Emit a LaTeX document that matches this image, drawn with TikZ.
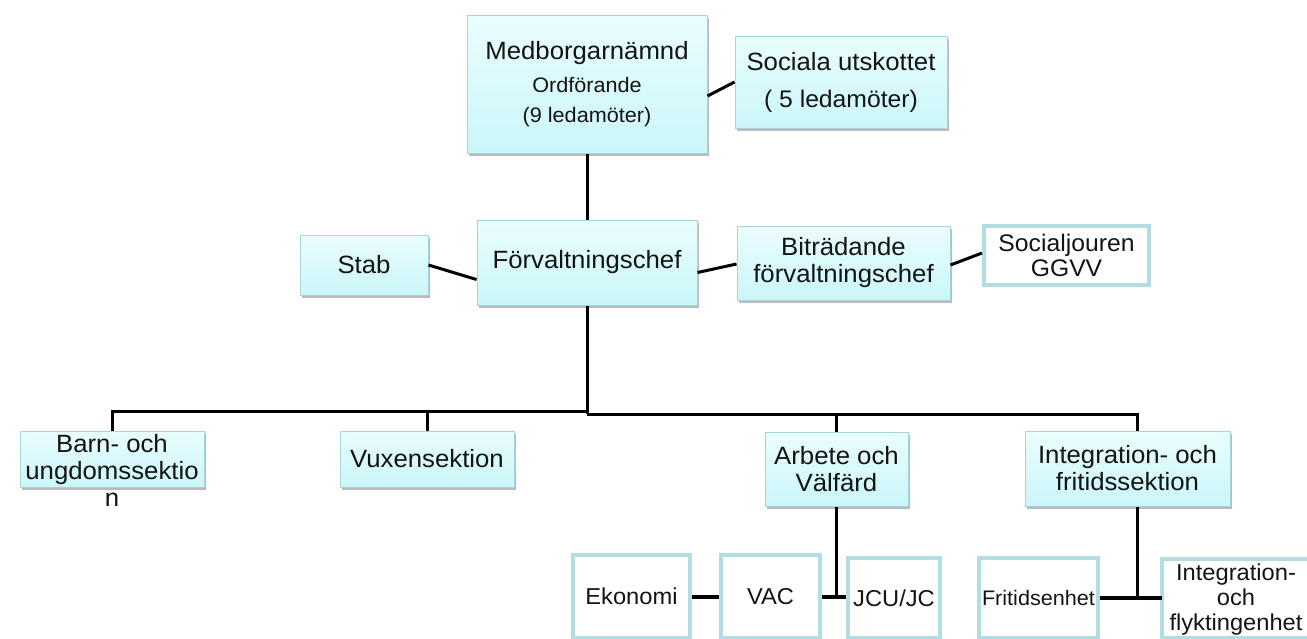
\documentclass[tikz,border=0pt]{standalone}
\usepackage{fontspec}
\setmainfont{Liberation Sans}[FakeStretch=1.03]
\usetikzlibrary{shadows,calc}
\definecolor{boxtop}{RGB}{234,253,253}
\definecolor{boxbot}{RGB}{202,246,249}
\definecolor{boxline}{RGB}{165,212,218}
\definecolor{wline}{RGB}{178,221,227}
\definecolor{ink}{RGB}{20,20,20}
\begin{document}
\begin{tikzpicture}[x=1pt,y=-1pt,
  bluebox/.style={draw=boxline, line width=1pt, top color=boxtop, bottom color=boxbot,
    drop shadow={shadow xshift=1.5pt, shadow yshift=-3pt, fill=black!60, opacity=0.45},
    inner sep=0pt, align=center, text=ink, font=\fontsize{25}{27}\selectfont},
  whitebox/.style={draw=wline, line width=4pt, fill=white, inner sep=0pt, align=center,
    text=ink, font=\fontsize{23}{25}\selectfont},
  plain/.style={inner sep=0pt, align=center, text=ink, font=\fontsize{25}{27}\selectfont},
  conn/.style={line width=3pt, black},
  thick conn/.style={line width=4pt, black},
  wborder/.style={draw=wline, line width=4pt},
]
\fill[white] (0,0) rectangle (1307,638);
\useasboundingbox (0,0) rectangle (1307,638);
\clip (0,0) rectangle (1307,638);

% top level
\node[bluebox, minimum width=240pt, minimum height=138pt] (m) at (587,84)
  {Medborgarnämnd\\[6pt]{\fontsize{21}{24}\selectfont Ordförande}\\[3pt]{\fontsize{21}{24}\selectfont (9 ledamöter)}};
\node[bluebox, minimum width=212pt, minimum height=92pt] (s) at (841,82)
  {Sociala utskottet\\[10pt]{\fontsize{24}{27}\selectfont ( 5 ledamöter)}};

% middle level
\node[bluebox, minimum width=128pt, minimum height=60pt] (stab) at (364,265) {Stab};
\node[bluebox, minimum width=220pt, minimum height=85pt] (f) at (587,262.5) {Förvaltningschef};
\node[bluebox, minimum width=213pt, minimum height=74pt] (b) at (843.5,263) {Biträdande\\förvaltningschef};
\node[whitebox, minimum width=165pt, minimum height=59pt, font=\fontsize{24}{25}\selectfont] (sj) at (1066.5,255.5) {Socialjouren\\GGVV};

% sections
\node[bluebox, minimum width=184pt, minimum height=56pt] (barn) at (112,459) {};
\node[plain, anchor=north] (barnT) at ([yshift=-4pt]barn.north) {Barn- och\\ungdomssektio\\n};
\node[bluebox, minimum width=174pt, minimum height=56pt] (vux) at (427,459) {Vuxensektion};
\node[bluebox, minimum width=143pt, minimum height=74pt] (arb) at (836.5,469) {Arbete och\\Välfärd};
\node[bluebox, minimum width=205pt, minimum height=75pt] (integ) at (1127.5,468.5) {Integration- och\\fritidssektion};

% units
\node[whitebox, minimum width=117pt, minimum height=83pt] (eko) at (631.5,596.5) {Ekonomi};
\node[whitebox, minimum width=99pt, minimum height=83pt] (vac) at (770.5,596.5) {VAC};
\node[whitebox, minimum width=92pt, minimum height=80pt] (jcu) at (894,598) {JCU/JC};
\node[whitebox, minimum width=119pt, minimum height=80pt, font=\fontsize{21}{25}\selectfont] (frit) at (1038.5,598) {Fritidsenhet};
\node[inner sep=0pt, fill=white, minimum width=180pt, minimum height=79pt] (ifl) at (1252,598.5) {};
\draw[wborder] (ifl.north east) -- (ifl.north west) -- (ifl.south west) -- (ifl.south east);
\node[plain, font=\fontsize{23}{25}\selectfont] (iflT) at (1236,600) {Integration-\\och\\flyktingenhet};

% connectors
\coordinate (busM) at (587,411);
\coordinate (busM2) at (587,414);
\coordinate (busR) at (1137.5,414);

\draw[conn] (m.south) -- (f.north);
\draw[conn] ([yshift=-12pt]m.east) -- (s.west);
\draw[conn] (stab.east) -- ([yshift=-17pt]f.west);
\draw[conn] ([yshift=-10pt]f.east) -- ([yshift=-1pt]b.west);
\draw[conn] ([yshift=-2pt]b.east) -- ([yshift=2.5pt]sj.west);

\draw[conn] (f.south) -- (busM2);
\draw[conn] (barn.north) |- (busM);
\draw[conn] (vux.north) -- (vux.north |- busM);
\draw[conn] (busM2) -- (busR) -- ([xshift=10pt]integ.north);
\draw[conn] (arb.north) -- (arb.north |- busR);

\draw[thick conn] (eko.east) -- (vac.west);
\draw[thick conn] (vac.east) -- (jcu.west |- vac.east);
\draw[conn] (arb.south) -- (arb.south |- vac.east);
\draw[thick conn] (frit.east) -- (ifl.west |- frit.east);
\draw[conn] ([xshift=10pt]integ.south) -- ([xshift=10pt]integ.south |- frit.east);
\end{tikzpicture}
\end{document}
